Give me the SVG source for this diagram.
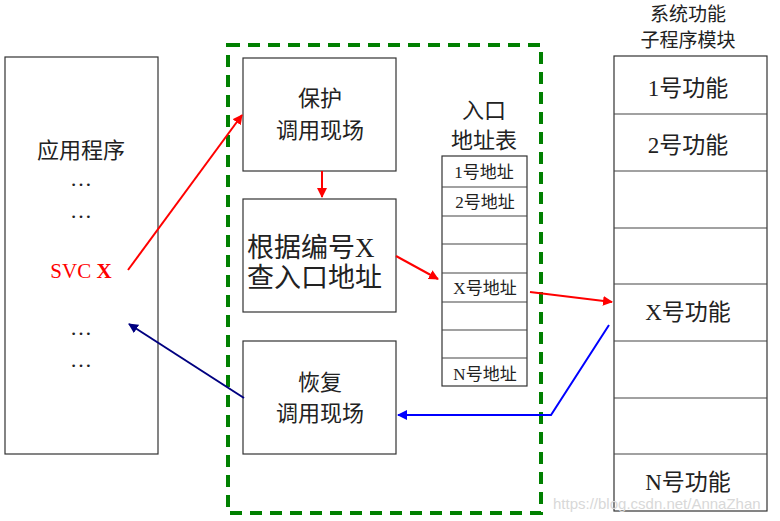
<svg xmlns="http://www.w3.org/2000/svg" width="780" height="521" viewBox="0 0 780 521">
<defs>
<style>
text{font-family:"Liberation Serif","Noto Sans CJK SC",serif;fill:#222;text-anchor:middle}
.box{fill:#fff;stroke:#333;stroke-width:1.2}
.row{fill:none;stroke:#444;stroke-width:1.2}
.t22{font-size:22px}
.t17{font-size:17px}
.t23{font-size:23px}
.t19{font-size:19px}
</style>
<marker id="ar" viewBox="0 0 10 10" refX="9" refY="5" markerWidth="5" markerHeight="5" orient="auto" markerUnits="strokeWidth"><path d="M0,0L10,5L0,10z" fill="#ff0000"/></marker>
<marker id="ab" viewBox="0 0 10 10" refX="9" refY="5" markerWidth="5" markerHeight="5" orient="auto" markerUnits="strokeWidth"><path d="M0,0L10,5L0,10z" fill="#0000ff"/></marker>
<marker id="an" viewBox="0 0 10 10" refX="9" refY="5" markerWidth="5" markerHeight="5" orient="auto" markerUnits="strokeWidth"><path d="M0,0L10,5L0,10z" fill="#000080"/></marker>
</defs>
<rect width="780" height="521" fill="#fff"/>
<g id="app">
<rect class="box" x="5" y="57" width="153" height="397"/>
<text class="t22" x="81" y="158">应用程序</text>
<text class="t22" x="81" y="186">…</text>
<text class="t22" x="81" y="218">…</text>
<text x="81" y="278" font-size="21" style="fill:#ff0000">SVC <tspan font-weight="bold">X</tspan></text>
<text class="t22" x="81" y="335">…</text>
<text class="t22" x="81" y="367">…</text>
</g>
<g id="kernel">
<rect x="228" y="45" width="313" height="468" fill="none" stroke="#008000" stroke-width="4" stroke-dasharray="12,8"/>
</g>
<g id="protect">
<rect class="box" x="243" y="58" width="153" height="113"/>
<text class="t22" x="320" y="106">保护</text>
<text class="t22" x="320" y="138">调用现场</text>
</g>
<g id="lookup">
<rect class="box" x="243" y="199" width="153" height="113"/>
<text x="247" y="257" font-size="27" style="text-anchor:start">根据编号X</text>
<text x="247" y="287" font-size="27" style="text-anchor:start">查入口地址</text>
</g>
<g id="restore">
<rect class="box" x="243" y="341" width="153" height="113"/>
<text class="t22" x="320" y="390">恢复</text>
<text class="t22" x="320" y="421">调用现场</text>
</g>
<g id="table">
<text class="t22" x="484" y="118">入口</text>
<text class="t22" x="484" y="148">地址表</text>
<rect class="box" x="442" y="156" width="85" height="230"/>
<path class="row" d="M442,187H527M442,216H527M442,244H527M442,273H527M442,302H527M442,330H527M442,358H527"/>
<text class="t17" x="484" y="178">1号地址</text>
<text class="t17" x="485" y="208">2号地址</text>
<text class="t17" x="485" y="294">X号地址</text>
<text class="t17" x="485" y="380">N号地址</text>
</g>
<g id="modules">
<text class="t19" x="688" y="21">系统功能</text>
<text class="t19" x="688" y="47">子程序模块</text>
<rect class="box" x="614" y="56" width="153" height="455"/>
<path class="row" d="M614,114H767M614,171H767M614,228H767M614,284H767M614,341H767M614,398H767M614,454H767"/>
<text class="t23" x="688" y="96">1号功能</text>
<text class="t23" x="688" y="153">2号功能</text>
<text class="t23" x="688" y="320">X号功能</text>
<text class="t23" x="688" y="490">N号功能</text>
</g>
<g id="connectors" fill="none" stroke-width="2">
<path d="M128,270L242,115" stroke="#ff0000" marker-end="url(#ar)"/>
<path d="M322,171V197" stroke="#ff0000" marker-end="url(#ar)"/>
<path d="M396,256L438,279" stroke="#ff0000" marker-end="url(#ar)"/>
<path d="M530,292L612,302" stroke="#ff0000" marker-end="url(#ar)"/>
<path d="M609,325L551,415H398" stroke="#0000ff" marker-end="url(#ab)"/>
<path d="M244,398L129,324" stroke="#000080" marker-end="url(#an)"/>
</g>
<text x="553" y="509" font-size="15" style="text-anchor:start;fill:#d8d8d8;font-family:'Liberation Sans',sans-serif">https://blog.csdn.net/AnnaZhan</text>
</svg>
